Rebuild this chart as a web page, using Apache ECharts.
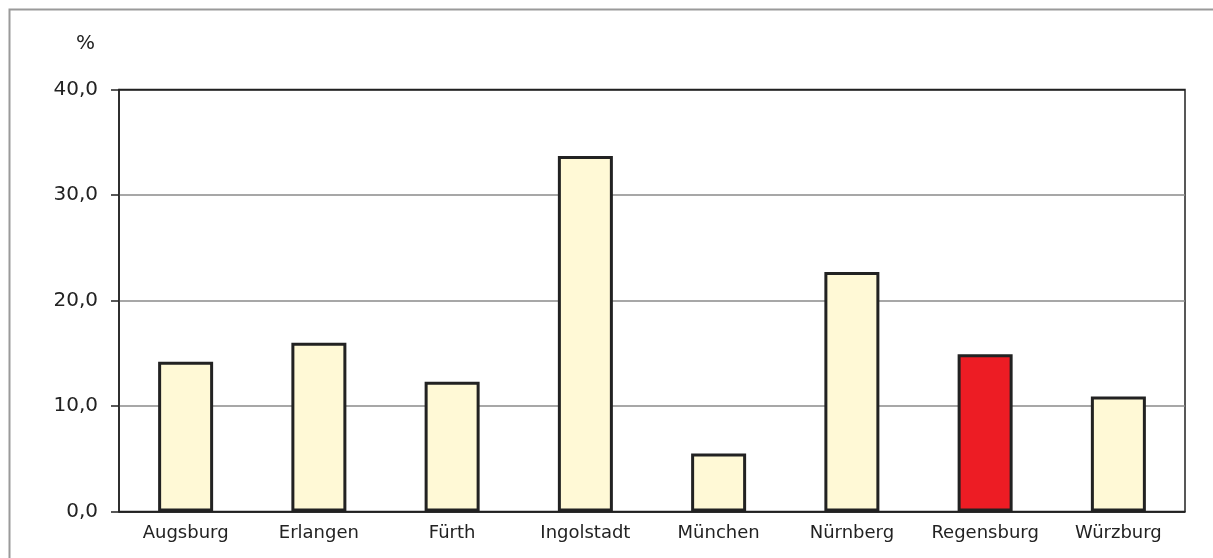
<!DOCTYPE html>
<html>
<head>
<meta charset="utf-8">
<script src="https://cdn.jsdelivr.net/npm/echarts@6/dist/echarts.min.js"></script>
<style>
  html, body { margin: 0; padding: 0; background: #fff; }
  #chart { width: 1213px; height: 558px; }
</style>
</head>
<body>
<div id="chart"></div>
<script>
// Cities and their shares in percent
const cities = ['Augsburg', 'Erlangen', 'Fürth', 'Ingolstadt', 'München', 'Nürnberg', 'Regensburg', 'Würzburg'];
const shares = [14.2, 16.0, 12.3, 33.7, 5.5, 22.7, 14.9, 10.9];
const highlightCity = 'Regensburg';
const yTicks = [0, 10, 20, 30, 40];

const creamFill = '#FFF9D6';
const redFill = '#ED1C24';
const ink = '#222222';
const fontFamily = '"DejaVu Sans", "Liberation Sans", Arial, sans-serif';

const chart = echarts.init(document.getElementById('chart'), null, { renderer: 'canvas' });

chart.setOption({
  backgroundColor: '#ffffff',
  animation: false,
  graphic: [{
    type: 'rect',
    left: 7, top: 7,
    shape: { width: 1240, height: 600 },
    style: { fill: 'none', stroke: '#9a9a9a', lineWidth: 2 },
    silent: true
  }],
  grid: {
    left: 119, right: 28, top: 89.5, bottom: 46.5,
    show: true,
    borderColor: ink,
    borderWidth: 1.5,
    backgroundColor: 'transparent'
  },
  xAxis: {
    type: 'category',
    data: cities,
    axisLine: { show: true, lineStyle: { color: ink, width: 1.5 } },
    axisTick: { show: false },
    axisLabel: { color: ink, fontSize: 18, fontFamily: fontFamily, margin: 13, interval: 0 }
  },
  yAxis: {
    type: 'value',
    min: yTicks[0],
    max: yTicks[yTicks.length - 1],
    interval: 10,
    name: '%',
    nameLocation: 'end',
    nameGap: 46,
    nameTextStyle: { color: ink, fontSize: 20, fontFamily: fontFamily, align: 'right', verticalAlign: 'middle', padding: [0, 24, 0, 0] },
    axisLine: { show: true, lineStyle: { color: ink, width: 1.5 } },
    axisTick: { show: true, inside: false, length: 8, lineStyle: { color: ink, width: 1.5 } },
    axisLabel: {
      color: ink, fontSize: 20, fontFamily: fontFamily, margin: 21,
      formatter: v => v.toFixed(1).replace('.', ',')
    },
    splitLine: { show: true, lineStyle: { color: ['#222', '#8a8a8a', '#8a8a8a', '#8a8a8a', '#222'], width: 1.5 } }
  },
  series: [{
    type: 'bar',
    barWidth: 55,
    data: shares.map((v, i) => ({
      value: v,
      itemStyle: { color: cities[i] === highlightCity ? redFill : creamFill }
    })),
    itemStyle: { borderColor: ink, borderWidth: 3 }
  }]
});
</script>
</body>
</html>
